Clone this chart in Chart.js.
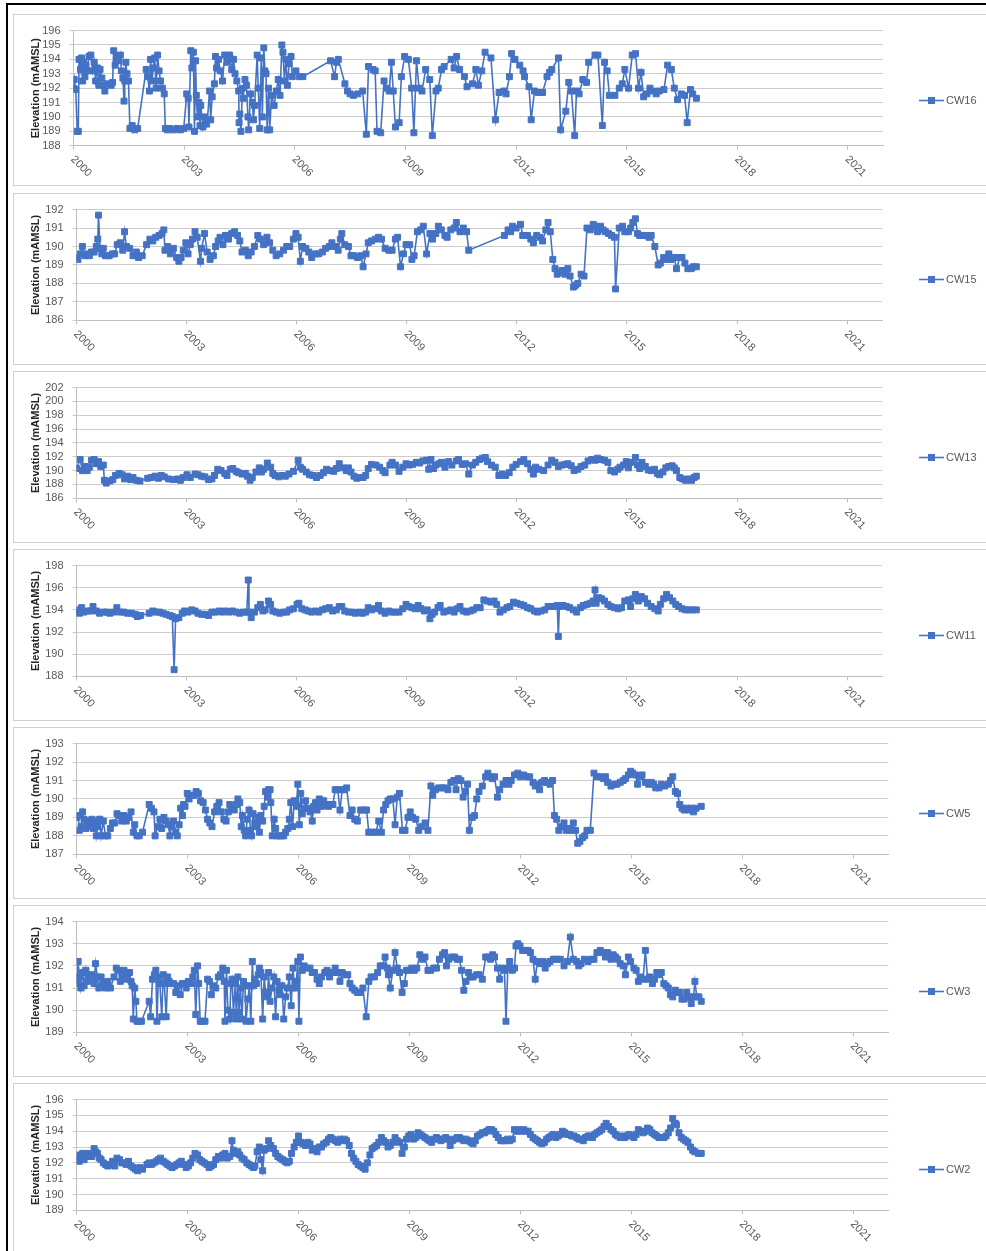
<!DOCTYPE html>
<html>
<head>
<meta charset="utf-8">
<title>Groundwater elevations CW16 - CW2</title>
<script src="https://cdn.jsdelivr.net/npm/chart.js@4.4.0/dist/chart.umd.min.js"></script>
<style>
  html, body { margin: 0; padding: 0; background: #fff; }
  body { width: 986px; height: 1251px; position: relative; overflow: hidden; }
  #frame { position: absolute; left: 6px; top: 3px; width: 1000px; height: 1300px;
           border-top: 2px solid #000; border-left: 2px solid #000; }
  .panel { position: absolute; left: 13px; width: 990px; height: 170px; border: 1px solid #d0d0d0; }
  .panel canvas { position: absolute; left: 0; top: 0; }
</style>
</head>
<body>
<div id="frame"></div>
<div id="charts"></div>

<script>
// x values are years after 1 Jan 2000, y values are elevations (mAMSL)
const xTickYears = [0, 3, 6, 9, 12, 15, 18, 21];
const yearLabels = ['2000', '2003', '2006', '2009', '2012', '2015', '2018', '2021'];

const cw16Years = [
  0.00,0.02,0.06,0.10,0.13,0.15,0.19,0.22,0.25,0.28,0.31,0.34,0.37,0.42,0.47,0.52,0.56,0.60,0.65,0.69,0.72,0.77,0.81,0.85,0.93,
  1.02,1.06,1.09,1.13,1.18,1.23,1.27,1.30,1.34,1.37,1.39,1.42,1.45,1.49,1.53,1.59,1.66,1.74,1.97,
  2.01,2.06,2.09,2.13,2.16,2.20,2.24,2.28,2.32,2.36,2.41,2.46,2.49,2.55,2.61,2.71,2.81,2.90,2.99,
  3.07,3.11,3.13,3.18,3.21,3.25,3.28,3.31,3.33,3.36,3.40,3.43,3.45,3.51,3.56,3.61,3.63,3.69,3.72,3.76,3.82,3.85,3.88,3.93,3.98,
  4.04,4.10,4.17,4.23,4.29,4.34,4.38,4.43,4.48,4.49,4.51,4.54,4.58,4.60,4.65,4.69,4.73,4.75,4.80,4.85,4.88,4.91,4.98,
  5.01,5.05,5.09,5.12,5.16,5.19,5.22,5.25,5.29,5.32,5.37,5.44,5.50,5.55,5.60,5.65,5.68,5.72,5.76,5.80,5.85,5.90,5.93,
  6.03,6.12,6.22,6.97,
  7.08,7.13,7.18,7.36,7.43,7.50,7.59,7.71,7.84,7.94,
  8.00,8.12,8.18,8.23,8.33,8.42,8.50,8.56,8.62,8.67,8.73,8.83,8.89,8.98,
  9.08,9.17,9.23,9.30,9.37,9.45,9.55,9.66,9.73,9.83,9.89,9.98,
  10.05,10.24,10.32,10.39,10.47,10.60,10.67,10.82,10.91,10.98,
  11.07,11.16,11.32,11.44,11.54,11.67,11.73,11.82,11.88,11.97,
  12.10,12.19,12.23,12.35,12.41,12.50,12.60,12.72,12.84,12.91,12.97,
  13.15,13.21,13.35,13.43,13.50,13.59,13.64,13.71,13.81,13.91,13.97,
  14.14,14.22,14.34,14.40,14.47,14.53,14.68,14.80,14.88,14.95,
  15.05,15.15,15.24,15.32,15.39,15.46,15.55,15.63,15.70,15.80,15.88,
  16.01,16.11,16.21,16.29,16.38,16.48,16.57,16.64,16.73,16.79,16.89
];
const cw16Levels = [
  192.0,192.6,191.9,189.0,189.0,194.0,193.3,194.1,192.5,193.8,192.8,193.6,193.2,194.2,194.3,193.2,193.8,192.5,193.4,192.2,193.3,192.7,192.2,191.8,192.3,
  192.2,192.4,194.6,193.6,194.2,193.9,194.3,193.2,192.7,191.1,192.5,193.8,193.0,192.5,189.2,189.4,189.1,189.2,193.3,
  192.8,191.8,194.0,192.5,193.4,194.1,192.0,194.3,193.2,192.5,192.0,191.6,189.2,189.1,189.2,189.1,189.2,189.1,189.2,
  191.6,191.3,189.3,194.6,193.4,194.5,189.0,193.9,191.5,190.0,191.0,189.4,190.8,189.3,190.0,189.5,189.8,191.8,189.8,191.4,192.3,194.2,193.4,194.0,193.2,
  192.5,194.3,193.8,194.3,193.3,194.0,193.0,192.5,191.8,189.6,190.2,189.0,192.0,191.3,192.6,192.2,190.0,189.1,191.6,191.0,189.8,190.8,194.3,
  192.0,189.2,194.1,190.0,194.8,193.2,193.0,189.1,192.0,189.1,191.5,190.8,191.8,192.6,191.5,195.0,194.5,192.5,194.0,192.2,193.7,194.2,192.8,
  193.2,192.8,192.8,193.9,
  192.8,193.8,194.0,192.3,191.8,191.6,191.5,191.6,191.8,188.8,
  193.5,193.3,193.2,189.0,188.9,192.5,192.0,191.8,193.8,191.8,189.3,189.6,192.8,194.2,
  194.0,192.0,188.9,193.9,192.0,191.8,193.3,192.6,188.7,191.8,192.0,193.3,
  193.5,194.0,193.4,194.2,193.3,192.8,192.1,192.3,193.3,192.2,
  193.2,194.5,194.1,189.8,191.7,191.8,191.6,192.8,194.4,194.0,
  193.6,193.2,192.8,192.1,189.8,191.8,191.7,191.7,192.8,193.1,193.3,
  194.1,189.1,190.4,192.4,191.8,188.7,191.8,191.6,192.6,192.4,193.8,
  194.3,194.3,189.4,193.8,193.2,191.5,191.5,192.0,192.3,193.3,
  192.0,194.3,194.4,192.0,193.1,191.4,191.6,192.0,191.8,191.6,191.8,
  191.9,193.6,193.3,192.0,191.2,191.6,191.5,189.6,191.9,191.6,191.3
];

const cw15Years = [
  0.00,0.04,0.10,0.16,0.23,0.29,0.35,0.41,0.48,0.54,0.58,0.60,0.64,0.69,0.73,0.79,0.89,0.98,
  1.04,1.11,1.19,1.26,1.31,1.36,1.45,1.54,1.63,1.69,1.79,1.91,
  2.00,2.08,2.16,2.25,2.33,2.38,2.41,2.48,2.56,2.64,2.73,2.79,2.85,2.91,2.98,
  3.04,3.10,3.16,3.23,3.29,3.38,3.41,3.49,3.56,3.64,3.73,3.79,3.86,3.91,3.99,
  4.06,4.14,4.23,4.31,4.39,4.45,4.51,4.60,4.68,4.76,4.85,4.94,
  5.01,5.10,5.19,5.26,5.35,5.44,5.54,5.64,5.73,5.81,5.91,5.98,
  6.04,6.10,6.16,6.25,6.33,6.41,6.51,6.60,6.70,6.79,6.89,6.96,
  7.06,7.13,7.19,7.23,7.31,7.41,7.48,7.56,7.66,7.75,7.81,7.89,7.95,
  8.04,8.14,8.23,8.31,8.41,8.51,8.60,8.69,8.75,8.83,8.91,8.98,
  9.08,9.14,9.20,9.29,9.38,9.45,9.54,9.63,9.70,9.79,9.86,9.94,
  10.04,10.10,10.20,10.29,10.35,10.45,10.54,10.63,10.69,
  11.66,11.76,11.83,11.88,11.98,
  12.10,12.16,12.29,12.38,12.45,12.54,12.63,12.70,12.79,12.85,12.91,12.98,
  13.04,13.10,13.16,13.23,13.31,13.39,13.45,13.54,13.60,13.66,13.75,13.83,13.91,
  14.00,14.08,14.14,14.20,14.28,14.35,14.41,14.50,14.58,14.66,14.69,14.79,14.88,14.94,
  15.04,15.10,15.16,15.23,15.29,15.35,15.41,15.50,15.60,15.66,15.76,15.85,15.91,
  16.00,16.06,16.14,16.20,16.29,16.35,16.44,16.50,16.58,16.66,16.75,16.81,16.89
];
const cw15Levels = [
  189.4,189.3,189.6,190.0,189.5,189.6,189.5,189.7,189.7,190.0,190.4,191.7,189.9,189.6,189.9,189.5,189.5,189.6,
  189.6,190.1,190.2,189.8,190.8,190.0,189.9,189.5,189.7,189.4,189.5,190.1,
  190.4,190.3,190.5,190.6,190.7,190.9,189.8,190.0,189.6,189.9,189.4,189.2,189.4,189.8,190.2,
  189.6,190.1,190.4,190.8,190.5,189.2,189.9,190.7,189.7,189.3,189.5,190.0,190.3,190.5,190.1,
  190.6,190.4,190.7,190.8,190.6,190.3,189.7,189.8,189.5,189.7,190.0,190.6,
  190.4,190.1,190.5,190.2,189.8,189.5,189.6,189.8,190.0,190.0,190.4,190.7,
  190.5,189.2,190.0,189.9,189.7,189.4,189.6,189.6,189.7,189.9,190.0,190.2,
  190.0,189.8,190.4,190.7,190.1,190.0,189.5,189.5,189.4,189.5,188.9,189.6,190.2,
  190.3,190.4,190.5,190.4,189.9,189.8,189.8,190.4,190.5,188.9,189.6,190.1,
  190.1,189.3,189.5,190.8,190.9,191.1,189.6,190.7,190.4,190.7,191.1,190.9,
  190.6,190.5,190.9,191.0,191.3,190.8,191.0,190.8,189.8,
  190.6,190.9,190.8,191.1,191.0,
  191.2,190.6,190.6,190.4,190.2,190.6,190.5,190.3,190.9,191.3,190.8,189.3,
  188.8,188.5,188.6,188.7,188.5,188.8,188.4,187.8,187.9,188.0,188.5,188.4,191.0,
  190.9,191.2,191.1,190.8,191.1,190.9,190.8,190.7,190.6,190.5,187.7,191.0,191.1,190.8,
  190.8,191.0,191.3,191.5,190.7,190.6,190.6,190.6,190.5,190.6,190.0,189.0,189.1,
  189.4,189.3,189.6,189.3,189.4,188.8,189.4,189.4,189.1,188.8,188.8,188.9,188.9
];

const cw13Years = [
  0.00,0.10,0.16,0.23,0.29,0.35,0.41,0.48,0.54,0.60,0.66,0.73,0.76,0.81,0.91,0.99,
  1.06,1.16,1.24,1.31,1.39,1.48,1.54,1.64,1.73,1.94,
  2.04,2.14,2.23,2.31,2.39,2.51,2.64,2.76,2.83,2.91,
  3.01,3.10,3.23,3.31,3.41,3.50,3.60,3.69,3.76,3.85,3.94,
  4.04,4.10,4.19,4.26,4.35,4.41,4.51,4.60,4.66,4.73,4.79,4.89,4.98,
  5.04,5.10,5.20,5.29,5.35,5.41,5.51,5.60,5.69,5.79,5.91,
  6.04,6.10,6.16,6.26,6.35,6.45,6.54,6.64,6.73,6.81,6.91,
  7.01,7.08,7.16,7.26,7.35,7.41,7.48,7.56,7.64,7.73,7.81,7.88,7.95,
  8.04,8.16,8.26,8.35,8.41,8.54,8.60,8.69,8.79,8.89,8.98,
  9.06,9.16,9.26,9.35,9.44,9.54,9.60,9.66,9.73,9.79,9.88,9.95,
  10.04,10.14,10.23,10.35,10.41,10.51,10.60,10.69,10.79,10.88,10.98,
  11.06,11.14,11.20,11.31,11.41,11.51,11.60,11.69,11.79,11.89,11.98,
  12.10,12.19,12.29,12.38,12.45,12.51,12.60,12.73,12.85,12.95,
  13.04,13.13,13.23,13.31,13.39,13.48,13.56,13.66,13.75,13.85,13.94,
  14.04,14.13,14.20,14.29,14.39,14.48,14.56,14.66,14.75,14.81,14.91,14.98,
  15.04,15.13,15.23,15.29,15.35,15.41,15.50,15.58,15.66,15.75,15.83,15.89,15.98,
  16.06,16.14,16.23,16.29,16.35,16.44,16.51,16.60,16.69,16.76,16.83,16.89
];
const cw13Levels = [
  190.3,191.6,190.0,190.6,190.0,190.5,191.5,191.6,191.0,191.3,190.6,190.8,188.6,188.2,188.5,188.7,
  189.3,189.6,189.4,188.8,189.2,188.7,189.0,188.6,188.5,188.9,
  189.0,189.2,188.9,189.3,189.1,188.8,188.7,188.8,188.6,189.0,
  189.4,189.0,189.5,189.4,189.2,189.1,188.7,188.8,189.3,190.2,190.0,
  189.6,189.3,190.2,190.3,189.9,189.7,189.5,189.6,189.2,188.6,189.0,189.8,190.4,
  189.8,190.2,191.1,190.5,189.6,189.3,189.1,189.3,189.2,189.5,189.9,
  191.5,190.5,190.2,189.8,189.4,189.3,189.0,189.3,189.7,190.2,190.0,
  189.9,190.3,191.0,190.4,190.0,190.4,189.8,189.2,188.9,189.0,189.0,189.3,190.3,
  190.9,190.8,190.5,190.0,189.7,190.8,191.2,190.8,189.9,190.5,191.0,
  190.8,190.9,191.2,191.1,191.4,191.5,190.2,191.6,190.3,190.8,191.0,191.2,
  190.5,191.3,190.8,191.4,191.6,190.9,191.0,189.5,190.8,191.2,191.6,
  191.8,191.9,191.3,190.8,190.5,189.3,189.5,189.3,189.7,190.5,190.9,
  191.3,191.6,191.0,190.2,189.5,190.5,190.2,190.0,190.8,191.5,
  191.2,190.6,190.8,190.9,191.0,190.7,190.0,190.2,190.6,190.8,191.4,
  191.6,191.5,191.8,191.6,191.5,191.2,190.0,189.8,190.2,190.5,190.8,191.3,
  190.4,191.2,191.9,190.8,190.3,191.2,190.6,190.1,190.0,190.2,189.6,189.4,189.8,
  190.4,190.6,190.7,190.4,190.0,189.0,188.8,188.6,188.8,188.6,189.0,189.2
];

const cw11Years = [
  0.00,0.04,0.08,0.14,0.20,0.29,0.38,0.45,0.54,0.63,0.73,0.83,0.91,
  1.01,1.10,1.19,1.29,1.39,1.50,1.60,1.66,1.75,1.98,
  2.08,2.16,2.26,2.35,2.44,2.54,2.61,2.66,2.70,2.79,2.88,2.95,
  3.04,3.14,3.23,3.31,3.41,3.51,3.60,3.69,3.79,3.89,3.98,
  4.06,4.16,4.25,4.35,4.45,4.54,4.64,4.68,4.70,4.76,4.85,4.94,
  5.01,5.08,5.14,5.23,5.29,5.35,5.44,5.54,5.64,5.73,5.81,5.91,
  6.01,6.06,6.14,6.23,6.31,6.41,6.51,6.60,6.70,6.79,6.89,6.98,
  7.08,7.16,7.23,7.31,7.41,7.51,7.60,7.70,7.79,7.88,7.95,
  8.04,8.14,8.23,8.31,8.41,8.51,8.60,8.69,8.79,8.89,8.98,
  9.06,9.14,9.23,9.31,9.39,9.48,9.56,9.63,9.69,9.76,9.85,9.91,
  10.01,10.10,10.20,10.29,10.38,10.45,10.54,10.63,10.73,10.81,10.91,
  11.00,11.10,11.19,11.29,11.38,11.45,11.54,11.63,11.73,11.81,11.91,
  12.00,12.10,12.19,12.29,12.38,12.48,12.56,12.66,12.76,12.85,12.95,
  13.04,13.10,13.13,13.16,13.26,13.35,13.44,13.54,13.63,13.73,13.81,13.91,
  14.00,14.08,14.13,14.16,14.23,14.31,14.39,14.48,14.56,14.66,14.76,14.85,14.94,
  15.04,15.10,15.16,15.23,15.31,15.39,15.48,15.56,15.66,15.76,15.85,15.91,
  16.00,16.08,16.16,16.25,16.33,16.41,16.50,16.60,16.69,16.79,16.89
];
const cw11Levels = [
  193.8,194.0,193.7,194.2,193.8,193.9,193.9,194.3,193.9,193.7,193.8,193.8,193.7,
  193.8,194.2,193.8,193.8,193.7,193.7,193.6,193.4,193.5,193.7,
  193.9,193.8,193.8,193.7,193.6,193.5,193.4,188.6,193.2,193.3,193.7,193.9,
  193.8,194.0,193.9,193.7,193.6,193.6,193.5,193.8,193.8,193.9,193.8,
  193.9,193.8,193.9,193.8,193.7,193.8,193.8,196.7,193.8,193.3,193.8,194.2,
  194.5,193.9,194.0,194.8,194.5,193.9,193.8,193.7,193.8,193.8,194.0,194.1,
  194.5,194.6,194.1,194.0,193.9,193.8,193.9,193.8,194.0,194.1,194.2,193.9,
  194.0,194.3,194.3,193.9,193.8,193.8,193.7,193.8,193.7,193.8,194.2,
  194.0,194.1,194.4,193.9,193.7,193.9,193.8,193.8,193.8,194.1,194.5,
  194.3,194.2,194.1,194.4,194.1,193.9,194.0,193.2,193.6,193.8,194.2,194.4,
  193.8,193.9,194.0,193.8,194.1,194.3,193.9,193.8,193.9,194.0,194.2,
  194.2,194.9,194.8,194.7,194.8,194.5,193.8,194.0,194.2,194.3,194.7,
  194.6,194.5,194.4,194.2,194.1,193.9,193.8,193.9,194.0,194.3,194.3,
  194.3,194.4,191.6,194.3,194.4,194.3,194.2,194.0,193.8,194.2,194.4,194.5,
  194.6,194.8,195.8,194.6,195.1,195.0,194.8,194.5,194.3,194.2,194.1,194.2,194.8,
  194.9,194.3,195.0,195.4,194.8,195.2,195.0,194.6,194.3,194.1,193.9,194.5,
  195.0,195.4,195.1,194.8,194.5,194.3,194.1,194.0,194.0,194.0,194.0
];

const cw5Years = [
  0.00,0.04,0.07,0.12,0.16,0.20,0.25,0.29,0.35,0.41,0.45,0.50,0.53,0.57,0.62,0.66,0.72,0.78,0.84,0.91,0.97,
  1.03,1.09,1.16,1.22,1.28,1.34,1.40,1.47,1.53,1.57,1.63,1.69,1.78,1.96,
  2.02,2.09,2.12,2.19,2.25,2.30,2.36,2.42,2.48,2.52,2.56,2.62,2.68,2.72,2.77,2.81,2.86,2.89,2.93,2.99,
  3.04,3.11,3.17,3.23,3.29,3.35,3.42,3.48,3.54,3.60,3.66,3.73,3.79,3.85,3.91,3.98,
  4.04,4.10,4.14,4.20,4.26,4.32,4.36,4.41,4.45,4.48,4.53,4.57,4.61,4.66,4.70,4.73,4.77,4.82,4.86,4.91,4.94,4.98,
  5.03,5.07,5.11,5.16,5.19,5.23,5.25,5.29,5.34,5.38,5.42,5.48,5.54,5.60,5.65,5.71,5.75,5.79,5.84,5.88,5.94,5.98,
  6.02,6.06,6.10,6.15,6.19,6.25,6.31,6.37,6.41,6.46,6.50,6.56,6.62,6.68,6.75,6.81,6.87,6.93,6.99,
  7.06,7.12,7.18,7.24,7.30,7.39,7.45,7.52,7.59,7.68,7.76,7.84,7.90,7.99,
  8.09,8.17,8.24,8.30,8.36,8.42,8.48,8.55,8.61,8.67,8.73,8.81,8.88,8.96,
  9.02,9.08,9.17,9.25,9.33,9.42,9.50,9.58,9.63,9.70,9.79,9.88,9.95,
  10.04,10.12,10.20,10.26,10.32,10.39,10.45,10.51,10.57,10.62,10.70,10.76,10.82,10.88,10.97,
  11.06,11.12,11.18,11.24,11.30,11.38,11.44,11.53,11.61,11.69,11.75,11.84,11.93,
  12.00,12.09,12.17,12.25,12.34,12.40,12.46,12.52,12.58,12.65,12.71,12.80,12.87,12.92,12.98,
  13.04,13.11,13.18,13.24,13.30,13.37,13.43,13.49,13.55,13.61,13.68,13.74,13.80,13.89,13.99,
  14.07,14.17,14.24,14.30,14.36,14.45,14.53,14.61,14.70,14.78,14.84,14.92,14.98,
  15.04,15.11,15.17,15.23,15.29,15.38,15.47,15.54,15.60,15.66,15.75,15.81,15.90,
  16.00,16.06,16.12,16.19,16.25,16.31,16.37,16.43,16.50,16.56,16.62,16.68,16.75,16.89
];
const cw5Levels = [
  189.0,189.1,188.3,188.5,189.3,188.9,188.4,188.8,188.5,188.9,188.4,188.8,188.0,188.5,188.9,188.0,188.8,188.0,188.0,188.4,188.7,
  188.7,189.2,189.1,188.8,189.1,188.8,189.0,189.3,188.2,188.6,188.0,188.0,188.2,189.7,
  189.5,189.3,188.0,188.5,188.9,188.4,189.0,188.8,188.6,188.0,188.5,188.8,188.2,188.0,188.6,189.5,189.1,189.7,189.6,190.3,
  190.0,190.2,190.2,190.4,190.3,189.9,189.8,189.4,188.9,188.7,188.5,189.3,189.6,189.8,189.3,188.9,
  188.8,189.3,189.7,189.5,189.4,189.7,190.0,189.8,188.5,189.1,188.3,188.0,188.9,189.4,188.3,188.0,189.2,188.7,188.5,189.0,188.2,189.1,
  188.8,189.6,190.4,190.1,190.5,190.5,189.8,188.0,188.9,188.4,188.0,188.0,188.0,188.0,188.2,188.4,188.9,189.8,188.5,189.9,189.6,190.8,
  188.6,190.3,189.2,189.5,189.9,189.5,189.3,188.8,189.6,189.8,189.4,190.0,189.6,189.9,189.7,189.6,189.7,189.7,190.5,
  190.5,189.4,190.5,190.5,190.6,189.1,189.4,188.9,188.8,189.4,189.4,189.4,188.2,188.2,
  188.2,188.8,188.2,189.4,189.7,189.9,190.0,190.0,188.6,190.1,190.3,188.3,188.3,189.0,
  189.3,189.0,188.9,188.3,188.5,188.7,188.3,190.7,190.2,190.5,190.6,190.6,190.6,
  190.5,190.9,191.0,190.5,191.1,191.0,190.1,190.4,190.8,188.3,189.0,189.1,190.0,190.4,190.7,
  191.2,191.4,191.2,191.1,191.2,190.1,190.5,190.8,191.0,190.8,191.0,191.3,191.4,
  191.2,191.3,191.2,191.2,190.9,190.7,190.8,190.5,190.9,191.0,190.9,190.8,191.0,189.1,188.9,
  188.3,188.5,188.7,188.3,188.4,188.3,188.7,188.3,187.6,187.7,187.9,188.0,188.3,188.3,191.4,
  191.2,191.2,191.1,191.2,190.9,190.7,190.8,190.8,190.9,191.0,191.1,191.3,191.5,
  191.4,191.3,190.8,191.2,191.3,190.9,190.8,190.9,190.8,190.6,190.6,190.8,190.7,
  190.8,191.0,191.2,190.4,190.3,189.7,189.5,189.4,189.5,189.4,189.5,189.3,189.5,189.6
];

const cw3Years = [
  0.00,0.04,0.07,0.11,0.16,0.20,0.25,0.29,0.35,0.41,0.47,0.51,0.56,0.60,0.66,0.72,0.78,0.84,0.91,
  1.01,1.07,1.13,1.18,1.23,1.28,1.32,1.37,1.43,1.47,1.50,1.53,1.57,1.60,1.63,1.69,1.75,1.96,
  2.00,2.05,2.10,2.14,2.17,2.21,2.25,2.30,2.34,2.37,2.42,2.46,2.50,2.55,2.62,2.68,2.73,2.80,2.86,2.92,2.96,
  3.02,3.08,3.14,3.18,3.22,3.27,3.30,3.34,3.39,3.47,3.54,3.59,3.64,3.70,3.76,3.83,3.89,3.95,3.99,
  4.01,4.05,4.09,4.14,4.17,4.20,4.24,4.29,4.32,4.36,4.39,4.43,4.47,4.51,4.55,4.58,4.63,4.67,4.71,4.75,4.78,4.82,4.86,4.91,4.94,4.98,
  5.03,5.07,5.11,5.16,5.19,5.23,5.28,5.33,5.38,5.42,5.47,5.50,5.55,5.60,5.65,5.70,5.75,5.80,5.85,5.89,5.94,5.98,
  6.01,6.05,6.10,6.15,6.22,6.31,6.37,6.43,6.50,6.56,6.62,6.71,6.77,6.84,6.92,6.99,
  7.06,7.12,7.18,7.24,7.33,7.39,7.45,7.52,7.59,7.68,7.74,7.83,7.90,7.96,
  8.05,8.14,8.21,8.27,8.34,8.40,8.43,8.48,8.55,8.61,8.67,8.73,8.80,8.86,8.92,8.98,
  9.06,9.13,9.20,9.28,9.35,9.42,9.50,9.57,9.66,9.73,9.81,9.89,9.95,
  10.00,10.06,10.14,10.22,10.29,10.35,10.41,10.47,10.53,10.60,10.66,10.72,10.82,10.88,10.97,
  11.06,11.12,11.19,11.25,11.30,11.38,11.44,11.50,11.57,11.61,11.66,11.71,11.78,11.84,11.88,11.93,11.99,
  12.06,12.12,12.21,12.27,12.34,12.40,12.46,12.55,12.61,12.67,12.73,12.80,12.89,12.98,
  13.08,13.18,13.27,13.35,13.43,13.52,13.58,13.64,13.73,13.83,13.91,13.99,
  14.07,14.16,14.24,14.30,14.36,14.45,14.51,14.57,14.63,14.70,14.78,14.84,14.92,14.98,
  15.07,15.13,15.19,15.25,15.32,15.38,15.44,15.50,15.57,15.63,15.69,15.75,15.81,15.88,15.94,
  16.00,16.06,16.12,16.19,16.25,16.31,16.37,16.43,16.50,16.56,16.62,16.68,16.72,16.77,16.83,16.89
];
const cw3Levels = [
  191.2,192.2,191.5,191.0,191.7,191.1,191.8,191.3,191.5,191.6,191.2,192.1,191.5,191.0,191.5,191.2,191.0,191.3,191.0,
  191.5,191.9,191.8,191.3,191.6,191.8,191.4,191.6,191.7,191.3,191.1,189.6,191.0,190.4,189.5,189.5,189.5,190.4,
  189.7,191.4,191.6,191.8,189.5,191.5,191.2,189.7,191.6,191.2,189.7,191.5,191.3,191.2,191.2,190.8,191.1,190.7,191.2,191.2,191.0,
  191.3,191.2,191.5,191.8,189.8,192.0,191.2,189.5,189.5,189.5,191.4,191.3,190.7,191.1,191.0,191.5,191.6,191.9,191.3,
  189.5,191.8,190.0,189.6,191.2,191.4,189.9,191.2,189.6,191.5,189.9,191.0,189.6,191.3,191.1,189.5,190.5,191.1,189.5,192.2,191.1,191.4,191.2,191.6,191.9,191.7,
  189.6,191.5,190.8,190.6,191.7,190.4,191.0,191.5,189.7,191.3,190.9,190.7,191.1,189.6,190.6,191.0,191.5,190.2,191.9,191.0,191.3,192.2,
  189.5,192.4,191.8,192.0,191.9,191.9,191.7,191.7,191.4,191.2,191.5,191.7,191.8,191.5,191.7,191.9,
  191.7,191.3,191.7,191.6,191.6,191.2,191.0,190.9,190.8,190.8,191.0,189.7,191.3,191.5,
  191.5,191.7,192.0,192.0,192.4,191.9,191.6,191.0,191.8,192.6,191.9,191.7,190.8,191.2,191.8,191.8,
  191.9,191.8,191.9,192.5,192.3,192.4,191.8,191.8,191.9,191.9,192.3,192.5,192.6,
  192.0,192.3,192.4,192.4,192.3,192.3,191.8,190.9,191.3,191.7,191.5,191.5,191.6,191.6,191.4,
  192.4,192.4,192.3,192.5,192.4,191.9,191.4,191.9,191.8,189.5,191.9,192.2,191.8,191.9,192.9,193.0,192.9,
  192.7,192.7,192.7,192.6,192.3,191.4,192.2,192.1,192.2,191.9,192.1,192.2,192.3,192.3,
  192.3,192.0,192.2,193.3,192.3,192.2,192.0,192.1,192.3,192.2,192.3,192.3,
  192.6,192.7,192.6,192.4,192.6,192.3,192.5,192.4,192.3,192.1,192.0,191.6,192.4,192.2,
  191.9,191.8,191.3,191.5,191.4,192.7,191.4,191.5,191.2,191.4,191.7,191.6,191.7,191.2,191.1,
  191.0,190.7,190.6,190.9,190.8,190.8,190.5,190.5,190.8,190.6,190.3,190.6,191.3,190.6,190.6,190.4
];

const cw2Years = [
  0.00,0.04,0.07,0.12,0.16,0.20,0.25,0.29,0.35,0.41,0.47,0.51,0.56,0.61,0.66,0.72,0.78,0.84,0.91,0.97,
  1.03,1.09,1.16,1.22,1.28,1.34,1.40,1.47,1.53,1.59,1.65,1.71,1.78,1.90,1.96,
  2.02,2.09,2.15,2.21,2.27,2.34,2.40,2.46,2.52,2.58,2.65,2.71,2.77,2.83,2.89,2.96,
  3.02,3.08,3.14,3.20,3.27,3.33,3.39,3.45,3.52,3.58,3.64,3.70,3.76,3.83,3.89,3.95,
  4.01,4.07,4.14,4.20,4.24,4.30,4.36,4.41,4.47,4.53,4.60,4.66,4.72,4.78,4.82,4.88,4.94,4.98,
  5.03,5.07,5.13,5.19,5.25,5.32,5.38,5.44,5.50,5.57,5.63,5.69,5.75,5.81,5.88,5.94,
  6.00,6.06,6.12,6.19,6.25,6.31,6.37,6.43,6.50,6.56,6.62,6.68,6.75,6.81,6.87,6.93,6.99,
  7.06,7.12,7.18,7.24,7.30,7.37,7.43,7.49,7.55,7.61,7.68,7.74,7.80,7.86,7.93,7.99,
  8.05,8.11,8.17,8.24,8.30,8.36,8.42,8.48,8.55,8.61,8.67,8.73,8.80,8.86,8.92,8.98,
  9.04,9.11,9.17,9.23,9.29,9.35,9.42,9.48,9.54,9.60,9.66,9.73,9.79,9.85,9.91,9.98,
  10.04,10.10,10.16,10.22,10.29,10.35,10.41,10.47,10.53,10.60,10.66,10.72,10.78,10.84,10.91,10.97,
  11.03,11.09,11.15,11.22,11.28,11.34,11.40,11.47,11.53,11.59,11.65,11.71,11.78,11.84,11.90,11.96,
  12.02,12.09,12.15,12.21,12.27,12.34,12.40,12.46,12.52,12.58,12.65,12.71,12.77,12.83,12.89,12.96,
  13.02,13.08,13.14,13.20,13.27,13.33,13.39,13.45,13.52,13.58,13.64,13.70,13.76,13.83,13.89,13.95,
  14.01,14.07,14.14,14.20,14.26,14.32,14.38,14.45,14.51,14.57,14.63,14.70,14.76,14.82,14.88,14.94,
  15.01,15.07,15.13,15.19,15.25,15.32,15.38,15.44,15.50,15.56,15.63,15.69,15.75,15.81,15.88,15.94,
  16.00,16.06,16.12,16.19,16.22,16.29,16.35,16.41,16.47,16.53,16.60,16.66,16.72,16.81,16.89
];
const cw2Levels = [
  192.3,192.5,192.1,192.4,192.6,192.2,192.4,192.6,192.5,192.4,192.9,192.7,192.6,192.3,192.2,192.0,191.9,191.8,191.9,192.1,
  191.8,192.3,192.2,192.0,192.0,191.9,192.1,191.8,191.7,191.6,191.5,191.7,191.6,191.9,192.0,
  191.9,192.0,192.1,192.2,192.3,192.1,192.0,191.9,191.8,191.7,191.8,191.9,192.0,192.1,191.9,191.7,
  191.8,192.0,192.3,192.6,192.5,192.2,192.1,192.0,191.9,191.7,191.8,191.9,192.2,192.4,192.3,192.5,
  192.6,192.3,192.4,193.4,192.8,192.6,192.7,192.5,192.3,192.2,192.0,191.9,191.8,191.7,191.8,192.7,193.0,192.2,
  191.5,192.8,192.9,193.4,193.1,192.9,192.6,192.4,192.3,192.2,192.1,192.0,192.1,192.6,193.0,193.3,
  193.7,193.3,193.2,193.1,193.3,193.2,192.8,192.9,192.7,193.0,193.0,193.2,193.3,193.5,193.6,193.5,193.4,
  193.3,193.5,193.4,193.5,193.4,193.1,192.6,192.3,192.1,191.9,191.8,191.7,191.6,192.0,192.5,192.9,
  193.0,193.1,193.3,193.6,193.4,193.3,193.0,193.1,193.3,193.6,193.4,193.3,192.6,193.0,193.5,193.7,
  193.8,193.5,193.6,193.9,193.8,193.7,193.6,193.5,193.4,193.3,193.5,193.6,193.5,193.4,193.5,193.6,
  193.5,193.1,193.4,193.5,193.6,193.6,193.5,193.4,193.5,193.4,193.3,193.2,193.4,193.7,193.8,193.9,
  193.9,194.0,194.1,194.1,194.0,193.8,193.6,193.4,193.4,193.4,193.5,193.4,193.5,194.1,194.0,194.1,
  194.0,194.1,194.0,194.0,193.8,193.6,193.5,193.4,193.3,193.2,193.3,193.5,193.6,193.7,193.8,193.6,
  193.7,193.8,194.0,193.9,193.8,193.8,193.7,193.7,193.6,193.5,193.5,193.4,193.6,193.7,193.7,193.6,
  193.8,193.9,194.0,194.1,194.3,194.5,194.3,194.1,194.0,193.8,193.7,193.6,193.7,193.6,193.7,193.8,
  193.7,193.6,193.8,194.1,194.0,193.9,194.0,194.2,194.1,193.9,193.8,193.7,193.6,193.6,193.6,193.7,
  193.9,194.2,194.8,194.5,194.4,193.9,193.6,193.5,193.4,193.3,193.0,192.8,192.7,192.6,192.6
];

const wellNames = ['CW16', 'CW15', 'CW13', 'CW11', 'CW5', 'CW3', 'CW2'];
const wellYears = [cw16Years, cw15Years, cw13Years, cw11Years, cw5Years, cw3Years, cw2Years];
const wellLevels = [cw16Levels, cw15Levels, cw13Levels, cw11Levels, cw5Levels, cw3Levels, cw2Levels];
const axisMin = [188, 186, 186, 188, 187, 189, 189];
const axisMax = [196, 192, 202, 198, 193, 194, 196];
const axisStep = [1, 1, 2, 2, 1, 1, 1];

// ---- look & layout ----
const BLUE = '#4472C4';
const TEXT = '#595959';
const SANS = "'Liberation Sans', Arial, sans-serif";
const CANVAS_W = 972, CANVAS_H = 170;

// panel box top (page px) and plot area inside the canvas
const panels = [
  { top: 14,   pTop: 13.3, pBottom: 130.7, pLeft: 59.5, pRight: 869 },
  { top: 193,  pTop: 12,   pBottom: 126.3, pLeft: 62.5, pRight: 868 },
  { top: 371,  pTop: 12.7, pBottom: 126.3, pLeft: 62.5, pRight: 868 },
  { top: 549,  pTop: 12,   pBottom: 126.3, pLeft: 62.5, pRight: 868 },
  { top: 727,  pTop: 12,   pBottom: 126.3, pLeft: 62.7, pRight: 874.3 },
  { top: 905,  pTop: 12,   pBottom: 126.3, pLeft: 62.7, pRight: 874.3 },
  { top: 1083, pTop: 12,   pBottom: 126.3, pLeft: 62.7, pRight: 874.3 }
];

// rotated year labels under the axis + the legend entry on the right
const decorPlugin = {
  id: 'decor',
  afterDraw(chart) {
    const { ctx, chartArea } = chart;
    const x = chart.scales.x;
    ctx.save();
    ctx.fillStyle = TEXT;
    ctx.font = '11px ' + SANS;
    ctx.textAlign = 'left';
    ctx.textBaseline = 'middle';
    xTickYears.forEach((v, i) => {
      ctx.save();
      ctx.translate(x.getPixelForValue(v) - 1, chartArea.bottom + 12);
      ctx.rotate(Math.PI / 4);
      ctx.fillText(yearLabels[i], 0, 0);
      ctx.restore();
    });

    const ds = chart.data.datasets[0];
    const ly = Math.round(chart.height / 2) + 0.5;
    ctx.strokeStyle = BLUE;
    ctx.lineWidth = 1.6;
    ctx.beginPath();
    ctx.moveTo(905, ly);
    ctx.lineTo(930, ly);
    ctx.stroke();
    ctx.fillStyle = BLUE;
    ctx.fillRect(914, ly - 3.5, 7, 7);
    ctx.fillStyle = TEXT;
    ctx.font = '11px ' + SANS;
    ctx.fillText(ds.label, 932, ly);
    ctx.restore();
  }
};

function makeChart(idx) {
  const geo = panels[idx];
  const box = document.createElement('div');
  box.className = 'panel';
  box.style.top = geo.top + 'px';
  const canvas = document.createElement('canvas');
  canvas.width = CANVAS_W;
  canvas.height = CANVAS_H;
  box.appendChild(canvas);
  document.getElementById('charts').appendChild(box);

  const years = wellYears[idx];
  const levels = wellLevels[idx];

  new Chart(canvas, {
    type: 'line',
    data: {
      datasets: [{
        label: wellNames[idx],
        data: years.map((t, i) => ({ x: t, y: levels[i] })),
        borderColor: BLUE,
        backgroundColor: BLUE,
        borderWidth: 1.6,
        pointStyle: 'rect',
        pointRadius: 4.2,
        pointBorderWidth: 1,
        tension: 0
      }]
    },
    options: {
      responsive: false,
      animation: false,
      devicePixelRatio: 1,
      layout: { padding: { left: 0, top: geo.pTop, right: CANVAS_W - geo.pRight, bottom: 0 } },
      plugins: { legend: { display: false }, tooltip: { enabled: false } },
      scales: {
        x: {
          type: 'linear',
          min: 0,
          max: 21.95,
          afterBuildTicks: s => { s.ticks = xTickYears.map(v => ({ value: v })); },
          afterFit: s => { s.height = CANVAS_H - geo.pBottom; },
          ticks: { display: false },
          grid: { drawOnChartArea: false, drawTicks: true, tickLength: 4, color: '#bfbfbf' },
          border: { color: '#bfbfbf' }
        },
        y: {
          min: axisMin[idx],
          max: axisMax[idx],
          afterFit: s => { s.width = geo.pLeft; },
          ticks: { stepSize: axisStep[idx], autoSkip: false, color: TEXT, padding: 9, font: { family: SANS, size: 11 } },
          grid: { color: '#cccccc', tickLength: 4 },
          border: { color: '#bfbfbf' },
          title: {
            display: true,
            text: 'Elevation (mAMSL)',
            color: '#262626',
            font: { family: SANS, size: 11, weight: 'bold' },
            padding: { top: 15, bottom: 0 }
          }
        }
      }
    },
    plugins: [decorPlugin]
  });
}

wellNames.forEach((name, i) => makeChart(i));
</script>
</body>
</html>
